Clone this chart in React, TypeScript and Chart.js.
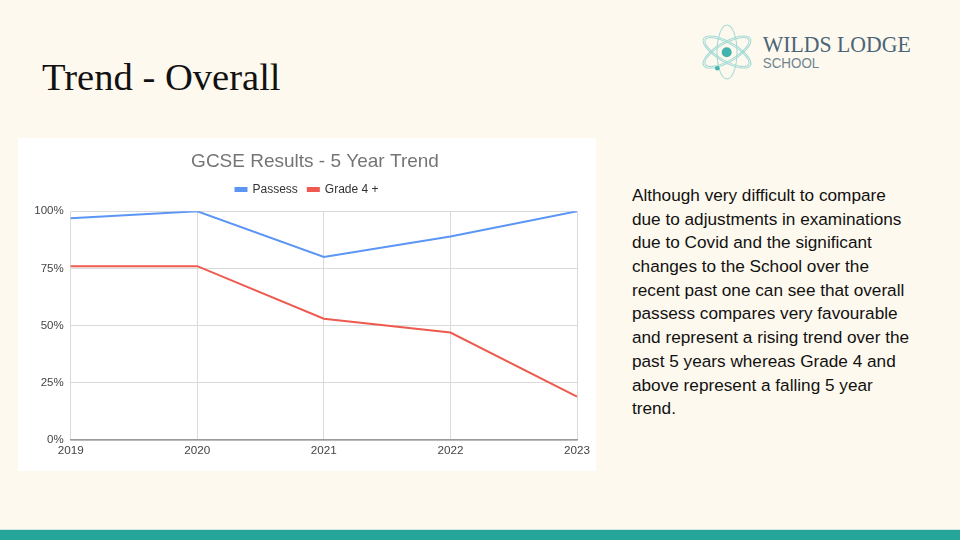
import React, { useEffect, useRef } from "react";
import { Chart, registerables } from "chart.js";

Chart.register(...registerables);

const years = ["2019", "2020", "2021", "2022", "2023"];
const passes = [97, 100, 80, 89, 100];
const grade4 = [76, 76, 53, 47, 19];
const seriesNames = ["Passess", "Grade 4 +"];
const chartTitle = "GCSE Results - 5 Year Trend";
const yMin = 0;
const yMax = 100;
const yStep = 25;

const paragraphLines = [
  "Although very difficult to compare",
  "due to adjustments in examinations",
  "due to Covid and the significant",
  "changes to the School over the",
  "recent past one can see that overall",
  "passess compares very favourable",
  "and represent a rising trend over the",
  "past 5 years whereas Grade 4 and",
  "above represent a falling 5 year",
  "trend.",
];

const SANS = "'Liberation Sans', Arial, sans-serif";

const titleShift = {
  id: "titleShift",
  afterLayout(chart: any) {
    const t = chart.titleBlock;
    if (t) {
      t.left += 16;
    }
  },
};

function TrendChart() {
  const ref = useRef<HTMLCanvasElement | null>(null);
  useEffect(() => {
    if (!ref.current) return;
    const chart = new Chart(ref.current, {
      type: "line",
      data: {
        labels: years,
        datasets: [
          {
            label: seriesNames[0],
            data: passes,
            borderColor: "#5b95f5",
            backgroundColor: "#5b95f5",
            borderWidth: 2,
            pointRadius: 0,
            tension: 0,
            xAxisID: "x",
            yAxisID: "y",
          },
          {
            label: seriesNames[1],
            data: grade4,
            borderColor: "#ee5a4f",
            backgroundColor: "#ee5a4f",
            borderWidth: 2,
            pointRadius: 0,
            tension: 0,
            xAxisID: "x",
            yAxisID: "y",
          },
        ],
      },
      plugins: [titleShift],
      options: {
        responsive: false,
        maintainAspectRatio: false,
        animation: false,
        layout: { padding: { left: 0, right: 0, top: 0, bottom: 0 } },
        plugins: {
          title: {
            display: true,
            text: chartTitle,
            color: "#757575",
            font: { family: SANS, size: 19, weight: "normal" },
            padding: { top: 12.6, bottom: 0 },
          },
          legend: {
            display: true,
            labels: {
              boxWidth: 11,
              boxHeight: 3,
              padding: 10,
              color: "#333",
              font: { family: SANS, size: 12 },
            },
          },
          tooltip: { enabled: false },
        },
        scales: {
          x: {
            type: "category",
            position: "bottom",
            grid: { color: "#dadada", drawTicks: false, lineWidth: 1 },
            border: { color: "#9a9a9a", width: 1.5 },
            ticks: {
              padding: 4,
              color: "#444",
              font: { family: SANS, size: 11.7 },
              maxRotation: 0,
              autoSkip: false,
            },
            afterFit: (s: any) => {
              s.height = 31;
            },
          },
          y: {
            type: "linear",
            position: "left",
            min: yMin,
            max: yMax,
            ticks: {
              stepSize: yStep,
              padding: 7,
              color: "#444",
              font: { family: SANS, size: 11.5 },
              callback: (v: any) => v + "%",
            },
            grid: { color: "#dadada", drawTicks: false, lineWidth: 1 },
            border: { display: false },
            afterFit: (s: any) => {
              s.width = 52.7;
            },
          },
          yRight: {
            type: "linear",
            position: "right",
            min: yMin,
            max: yMax,
            grid: { display: false, drawTicks: false },
            border: { display: false },
            ticks: { display: false },
            afterFit: (s: any) => {
              s.width = 19;
            },
          },
          xTop: {
            type: "category",
            position: "top",
            grid: { display: false, drawTicks: false },
            border: { display: false },
            ticks: { display: false },
            afterFit: (s: any) => {
              s.height = 5.9;
            },
          },
        },
      } as any,
    });
    return () => chart.destroy();
  }, []);
  return (
    <canvas
      ref={ref}
      width={578}
      height={333}
      style={{ width: 578, height: 333, display: "block" }}
    />
  );
}

function Logo() {
  return (
    <svg
      width={240}
      height={70}
      style={{ position: "absolute", left: 690, top: 20 }}
      viewBox="0 0 240 70"
    >
      <g fill="none" stroke="#a6dbd7" strokeWidth={1.1}>
        <ellipse cx={37} cy={32} rx={27} ry={10} transform="rotate(30 37 32)" />
        <ellipse cx={37} cy={32} rx={27} ry={10} transform="rotate(-30 37 32)" />
        <ellipse cx={37} cy={32} rx={27} ry={10} transform="rotate(90 37 32)" />
        <ellipse cx={37} cy={32} rx={25} ry={8.5} transform="rotate(30 37 32)" />
        <ellipse cx={37} cy={32} rx={25} ry={8.5} transform="rotate(-30 37 32)" />
      </g>
      <circle cx={36.7} cy={32.3} r={5} fill="#40b4ae" />
      <circle cx={27.3} cy={48.3} r={2.3} fill="#40b4ae" />
      <text
        x={72.7}
        y={31.7}
        fontFamily="'Liberation Serif', serif"
        fontSize={23}
        fill="#4a6577"
        textLength={148}
        lengthAdjust="spacingAndGlyphs"
      >
        WILDS LODGE
      </text>
      <text
        x={72.7}
        y={48.3}
        fontFamily={SANS}
        fontSize={15}
        fill="#6f8490"
        textLength={56.6}
        lengthAdjust="spacingAndGlyphs"
      >
        SCHOOL
      </text>
    </svg>
  );
}

export default function App() {
  useEffect(() => {
    document.body.style.margin = "0";
  }, []);
  return (
    <div
      style={{
        position: "fixed",
        left: 0,
        top: 0,
        width: 960,
        height: 540,
        background: "#fef9ee",
        overflow: "hidden",
      }}
    >
      <div
        style={{
          position: "absolute",
          left: 42,
          top: 57.7,
          fontFamily: "'Liberation Serif', 'Times New Roman', serif",
          fontSize: 38.6,
          lineHeight: "38.6px",
          color: "#111",
          whiteSpace: "nowrap",
        }}
      >
        Trend - Overall
      </div>
      <Logo />
      <div
        style={{
          position: "absolute",
          left: 18,
          top: 138,
          width: 578,
          height: 333,
          background: "#ffffff",
        }}
      >
        <TrendChart />
      </div>
      <div
        style={{
          position: "absolute",
          left: 632,
          top: 183.9,
          fontFamily: SANS,
          fontSize: 17.2,
          lineHeight: "23.7px",
          color: "#111",
          whiteSpace: "nowrap",
        }}
      >
        {paragraphLines.map((l, i) => (
          <div key={i}>{l}</div>
        ))}
      </div>
      <div
        style={{
          position: "absolute",
          left: 0,
          top: 529,
          width: 960,
          height: 1,
          background: "#cfe9e2",
        }}
      />
      <div
        style={{
          position: "absolute",
          left: 0,
          top: 530,
          width: 960,
          height: 10,
          background: "#26a69a",
        }}
      />
    </div>
  );
}
